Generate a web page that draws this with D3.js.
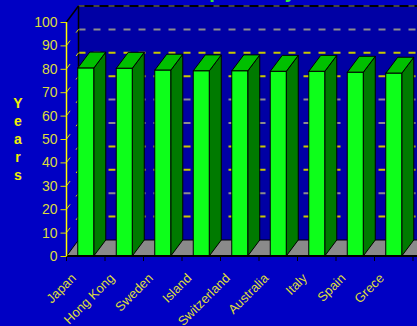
<!DOCTYPE html>
<html>
<head>
<meta charset="utf-8">
<script src="https://cdn.jsdelivr.net/npm/d3@7"></script>
<style>
  body { margin: 0; background: #0000c4; }
  svg { display: block; }
</style>
</head>
<body>
<div id="chart"></div>
<script>
// values
const countries = ['Japan', 'Hong Kong', 'Sweden', 'Island', 'Switzerland', 'Australia', 'Italy', 'Spain', 'Grece']
const lifeExp = [80.3, 80.2, 79.4, 79.1, 79.1, 78.9, 78.9, 78.5, 78.1]
const yTicks = [0, 10, 20, 30, 40, 50, 60, 70, 80, 90, 100]
const yTitle = 'Years'
const title = 'Life Expectancy'

const width = 417
const height = 326
const dx = 12, dy = 16   // depth offset of the 3d box

const svg = d3.select('#chart')
  .append('svg')
  .attr('width', width)
  .attr('height', height)
  .style('background-color', '#0000c4')

const x = d3.scaleBand()
  .domain(countries)
  .range([66.5, 413])

const y = d3.scaleLinear()
  .domain([0, 100])
  .range([256, 22])

const right = width + 20

// back wall
svg.append('rect')
  .attr('x', x.range()[0] + dx)
  .attr('y', y(100) - dy)
  .attr('width', right)
  .attr('height', y(0) - y(100))
  .attr('fill', '#0000a4')

// grid lines on the wall
const gridColor = v => (v === 80 || v === 70 || v === 40 || v === 30 || v === 10) ? '#c8c800' : '#8c8c8c'
svg.selectAll('.grid')
  .data(yTicks.filter(v => v > 0 && v < 100))
  .enter()
  .append('line')
  .attr('x1', x.range()[0] + dx)
  .attr('x2', right)
  .attr('y1', d => y(d) - dy)
  .attr('y2', d => y(d) - dy)
  .attr('stroke', d => gridColor(d))
  .attr('stroke-width', 2)
  .attr('stroke-dasharray', '7,8')

// wall top edge
svg.append('line')
  .attr('x1', x.range()[0] + dx).attr('x2', right)
  .attr('y1', y(100) - dy).attr('y2', y(100) - dy)
  .attr('stroke', '#000').attr('stroke-width', 2)
svg.append('line')
  .attr('x1', x.range()[0] + dx).attr('x2', right)
  .attr('y1', y(100) - dy).attr('y2', y(100) - dy)
  .attr('stroke', '#454545').attr('stroke-width', 2)
  .attr('stroke-dasharray', '6,9')

// wall left edge
svg.append('line')
  .attr('x1', x.range()[0] + dx).attr('x2', x.range()[0] + dx)
  .attr('y1', y(100) - dy).attr('y2', y(0) - dy)
  .attr('stroke', '#000').attr('stroke-width', 1.5)
svg.append('line')
  .attr('x1', x.range()[0]).attr('x2', x.range()[0] + dx)
  .attr('y1', y(100)).attr('y2', y(100) - dy)
  .attr('stroke', '#000').attr('stroke-width', 1.5)

// side wall diagonals
svg.selectAll('.diag')
  .data(yTicks.filter(v => v > 0 && v < 100))
  .enter()
  .append('line')
  .attr('x1', x.range()[0])
  .attr('y1', d => y(d))
  .attr('x2', x.range()[0] + dx)
  .attr('y2', d => y(d) - dy)
  .attr('stroke', '#e0e000')
  .attr('stroke-width', 1)
  .attr('stroke-dasharray', '6,10')

// floor
const x0 = x.range()[0]
svg.append('path')
  .attr('d', `M${x0},${y(0)} L${x0 + dx},${y(0) - dy} L${right},${y(0) - dy} L${right},${y(0)} Z`)
  .attr('fill', '#8a8a8a')
  .attr('stroke', '#000')
  .attr('stroke-width', 1)

// bars
const bw = 16
const data = countries.map((c, i) => ({ country: c, value: lifeExp[i] }))
const bars = svg.selectAll('.bar')
  .data(data)
  .enter()
  .append('g')

const bx = d => x(d.country) + (x.bandwidth() - bw) / 2

bars.append('path')
  .attr('d', d => {
    const l = bx(d) + bw, t = y(d.value), b = y(0)
    return `M${l},${b} L${l},${t} L${l + dx},${t - dy} L${l + dx},${b - dy} Z`
  })
  .attr('fill', '#007a00')
  .attr('stroke', '#000')

bars.append('path')
  .attr('d', d => {
    const l = bx(d), t = y(d.value)
    return `M${l},${t} L${l + dx},${t - dy} L${l + bw + dx},${t - dy} L${l + bw},${t} Z`
  })
  .attr('fill', '#00c000')
  .attr('stroke', '#000')

bars.append('rect')
  .attr('x', d => bx(d))
  .attr('y', d => y(d.value))
  .attr('width', bw)
  .attr('height', d => y(0) - y(d.value))
  .attr('fill', '#0dff1a')
  .attr('stroke', '#000')

// x axis line and ticks
svg.append('line')
  .attr('x1', x0).attr('x2', right)
  .attr('y1', y(0)).attr('y2', y(0))
  .attr('stroke', '#000').attr('stroke-width', 2)
svg.selectAll('.xtick')
  .data(countries.concat(['end']))
  .enter()
  .append('line')
  .attr('x1', (d, i) => x.range()[0] + i * x.step())
  .attr('x2', (d, i) => x.range()[0] + i * x.step())
  .attr('y1', y(0)).attr('y2', y(0) + 5)
  .attr('stroke', '#000')

// y axis
svg.append('line')
  .attr('x1', x0).attr('x2', x0)
  .attr('y1', y(100)).attr('y2', y(0))
  .attr('stroke', '#ffff00').attr('stroke-width', 1.5)

const yAxis = d3.axisLeft(y)
  .tickValues(yTicks)
  .tickSize(6)
  .tickPadding(3)
const gy = svg.append('g')
  .attr('transform', `translate(${x0},0)`)
  .call(yAxis)
gy.select('.domain').remove()
gy.selectAll('line').attr('stroke', '#e0e000')
gy.selectAll('text')
  .attr('fill', '#dcdc3c')
  .style('font-family', 'Liberation Sans, Arial, sans-serif')
  .style('font-size', '14px')

// x labels
svg.selectAll('.xlabel')
  .data(countries)
  .enter()
  .append('text')
  .attr('transform', d => `translate(${x(d) + x.bandwidth() / 2 - 9},${y(0) + 23}) rotate(-45)`)
  .attr('text-anchor', 'end')
  .attr('fill', '#dcdc3c')
  .style('font-family', 'Liberation Sans, Arial, sans-serif')
  .style('font-size', '13px')
  .text(d => d)

// y title, stacked letters
svg.selectAll('.ytitle')
  .data(yTitle.split(''))
  .enter()
  .append('text')
  .attr('x', 18)
  .attr('y', (d, i) => 108 + i * 18)
  .attr('text-anchor', 'middle')
  .attr('fill', '#f0f000')
  .style('font-family', 'Liberation Sans, Arial, sans-serif')
  .style('font-size', '14px')
  .style('font-weight', 'bold')
  .text(d => d)

// chart title, mostly above the window
svg.append('text')
  .attr('x', 296)
  .attr('y', -2)
  .attr('text-anchor', 'end')
  .attr('fill', '#33ee33')
  .style('font-family', 'Liberation Sans, Arial, sans-serif')
  .style('font-size', '20px')
  .style('font-weight', 'bold')
  .text(title)
</script>
</body>
</html>
